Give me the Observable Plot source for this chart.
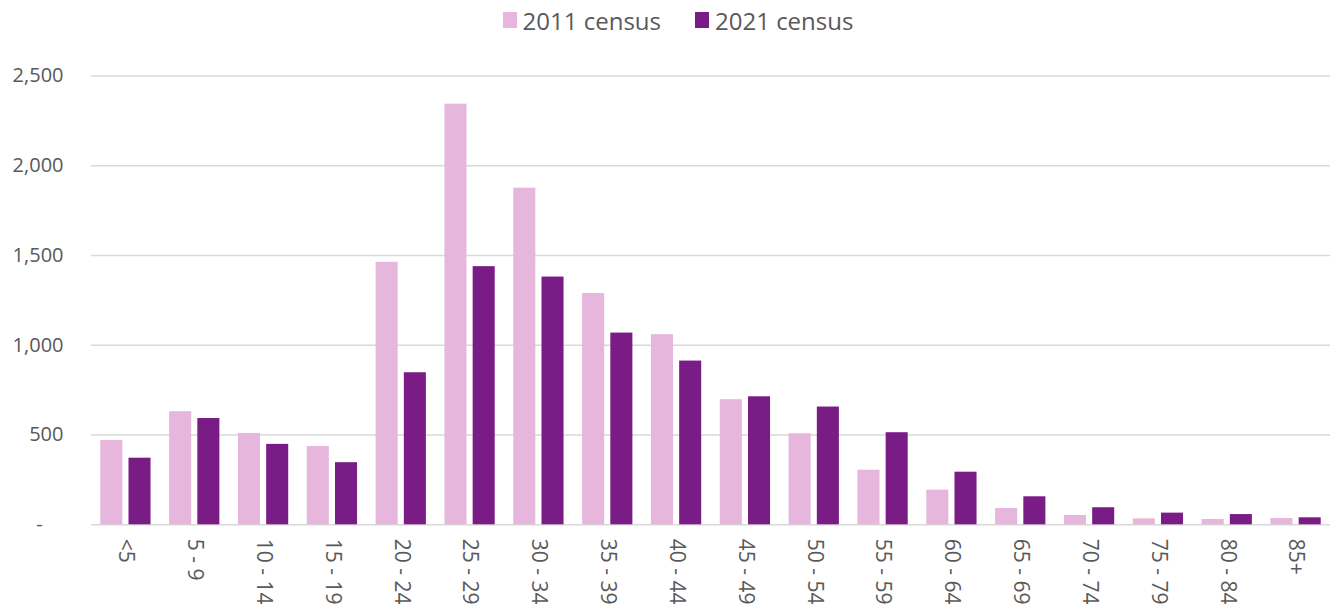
<!DOCTYPE html>
<html><head><meta charset="utf-8">
<script src="https://cdn.jsdelivr.net/npm/d3@7"></script>
<script src="https://cdn.jsdelivr.net/npm/@observablehq/plot@0.6"></script>
<style>
html,body{margin:0;padding:0;background:#fff;}
body{font-family:"Open Sans",sans-serif;color:#595959;width:1338px;height:609px;overflow:hidden;}
#legend{height:45px;display:flex;justify-content:center;align-items:center;padding-left:18px;padding-bottom:5px;box-sizing:border-box;font-size:24px;}
.item{display:flex;align-items:center;margin:0 17px;}
.sw{width:14px;height:16px;margin-right:6px;}
#chart svg{display:block;}
</style></head><body>
<div id="legend"></div>
<div id="chart"></div>
<script>
const ageGroups = ["<5","5 - 9","10 - 14","15 - 19","20 - 24","25 - 29","30 - 34","35 - 39","40 - 44","45 - 49","50 - 54","55 - 59","60 - 64","65 - 69","70 - 74","75 - 79","80 - 84","85+"];
const seriesNames = ["2011 census","2021 census"];
const values2011 = [470,630,509,436,1462,2343,1875,1288,1059,697,507,304,193,91,52,33,30,35];
const values2021 = [371,592,448,346,847,1438,1380,1068,912,713,656,513,293,156,95,65,57,39];
const seriesColors = ["#E6B6DC","#7A1C86"];
const yTicks = [0,500,1000,1500,2000,2500];

const rows2011 = ageGroups.map((a,i)=>({age:a, value:values2011[i]}));
const rows2021 = ageGroups.map((a,i)=>({age:a, value:values2021[i]}));

const legend = document.getElementById("legend");
seriesNames.forEach((s,i)=>{
  const it = document.createElement("div"); it.className="item";
  const sw = document.createElement("div"); sw.className="sw"; sw.style.background=seriesColors[i];
  const t = document.createElement("span"); t.textContent = s;
  it.appendChild(sw); it.appendChild(t); legend.appendChild(it);
});

const fmt = d3.format(",");
const chart = Plot.plot({
  width:1338, height:564,
  marginTop:30.5, marginBottom:84.7, marginLeft:91, marginRight:8,
  style:{fontFamily:"Open Sans", fontSize:"20px", color:"#595959", background:"#fff", overflow:"visible"},
  x:{domain:ageGroups, paddingInner:0.27, paddingOuter:0.135, round:false, label:null},
  y:{domain:[0,2500], label:null},
  marks:[
    Plot.gridY(yTicks, {stroke:"#d9d9d9", strokeOpacity:1, strokeWidth:1.5}),
    Plot.barY(rows2011, {x:"age", y:"value", fill:seriesColors[0], insetRight:28.2}),
    Plot.barY(rows2021, {x:"age", y:"value", fill:seriesColors[1], insetLeft:28.2}),
    Plot.axisY(yTicks, {tickSize:0, tickPadding:28, fontSize:20, tickFormat:d=> d===0 ? "-\u00a0\u00a0\u00a0\u00a0" : fmt(d), label:null, fill:"#595959"}),
    Plot.axisX({tickSize:0, tickRotate:90, tickPadding:14, fontSize:21, label:null, fill:"#595959"})
  ]
});
document.getElementById("chart").appendChild(chart);
</script>
</body></html>
